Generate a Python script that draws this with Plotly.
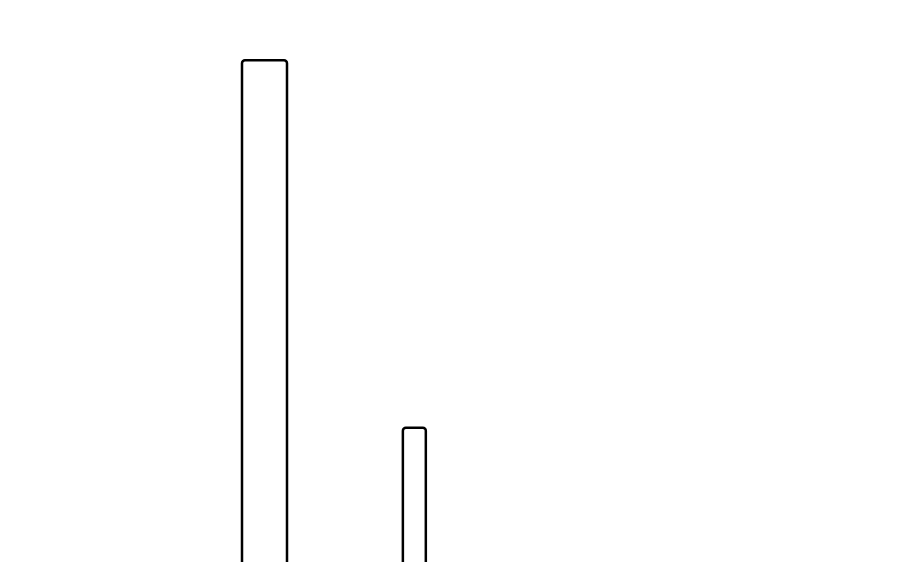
import plotly.graph_objects as go

# bar positions (x) and heights (y)
bar_x = [5.70, 9.03]
bar_y = [90.9, 26.8]
bar_w = [1.0, 0.51]

fig = go.Figure()
fig.add_trace(go.Bar(
    x=bar_x,
    y=bar_y,
    width=bar_w,
    marker=dict(color='white', line=dict(color='black', width=2.5), cornerradius=3),
    showlegend=False,
))

fig.update_layout(
    width=900,
    height=562,
    margin=dict(l=0, r=0, t=0, b=0),
    plot_bgcolor='white',
    paper_bgcolor='white',
)
fig.update_xaxes(range=[0, 20], visible=False)
fig.update_yaxes(range=[2, 100], visible=False)

fig.write_html("out.html")
